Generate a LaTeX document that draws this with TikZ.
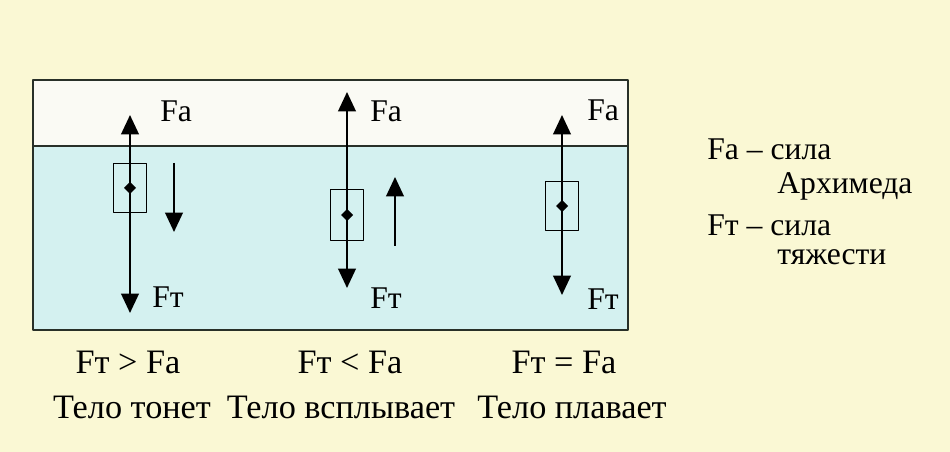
\documentclass[tikz,border=0pt]{standalone}
\usepackage{fontspec}
\setmainfont{Liberation Serif}
\usetikzlibrary{arrows.meta}
\definecolor{paper}{RGB}{250,248,212}
\definecolor{air}{RGB}{250,250,244}
\definecolor{water}{RGB}{212,241,240}
\definecolor{rim}{RGB}{40,48,40}
\tikzset{
  force/.style={line width=1.2pt,-{Triangle[width=10pt,length=11pt]}},
  body/.style={draw,line width=0.8pt,minimum width=18.5pt,minimum height=28pt,inner sep=0pt},
  lbl/.style={anchor=west,inner sep=0pt},
  big/.style={font=\fontsize{19.5}{22}\selectfont}
}
\begin{document}
\begin{tikzpicture}[x=0.02cm,y=-0.02cm,font=\fontsize{18}{20}\selectfont,line join=round]
  % background and tank
  \fill[paper] (0,0) rectangle (950,452);
  \fill[air] (33,80) rectangle (628,146);
  \fill[water] (33,146) rectangle (628,330);
  \draw[rim,line width=0.8pt] (33,146)--(628,146);
  \draw[rim,line width=1.2pt] (33,80) rectangle (628,330);
  % bodies with forces
  \foreach \n/\x/\yt/\yb/\yc/\h in {1/130/115/313/188/28, 2/347/92/288/215/29, 3/562/115/295/206/28}{
    \node[body,minimum height=\h pt] (body\n) at (\x,\yc) {};
    \coordinate (fa\n) at (\x,\yt);
    \coordinate (ft\n) at (\x,\yb);
    \draw[force] (body\n.center)--(fa\n);
    \draw[force] (body\n.center)--(ft\n);
    \fill (body\n.center) +(-6,0)--+(0,-6)--+(6,0)--+(0,6)--cycle;
  }
  % direction of motion
  \coordinate (m1a) at (174,163); \coordinate (m1b) at (174,232);
  \coordinate (m2a) at (395,246); \coordinate (m2b) at (395,177);
  \draw[force] (m1a)--(m1b);
  \draw[force] (m2a)--(m2b);
  % force labels
  \node[lbl] (la1) at (160,111) {Fa};
  \node[lbl] (lt1) at (152,297) {Fт};
  \node[lbl] (la2) at (370,111) {Fa};
  \node[lbl] (lt2) at (370,298) {Fт};
  \node[lbl] (la3) at (587,110) {Fa};
  \node[lbl] (lt3) at (587,299) {Fт};
  % conditions
  \node[big] (c1) at (128,362) {Fт~>~Fa};
  \node[big] (c2) at (350,362) {Fт~<~Fa};
  \node[big] (c3) at (564,362) {Fт~=~Fa};
  \node[big] (s1) at (132,407) {Тело тонет};
  \node[big] (s2) at (341,407) {Тело всплывает};
  \node[big] (s3) at (572,407) {Тело плавает};
  % legend
  \node[lbl] (k1) at (707,149) {Fa – сила};
  \node[lbl] (k2) at (777,186) {Архимеда};
  \node[lbl] (k3) at (707,225) {Fт – сила};
  \node[lbl] (k4) at (777,257) {тяжести};
\end{tikzpicture}
\end{document}
